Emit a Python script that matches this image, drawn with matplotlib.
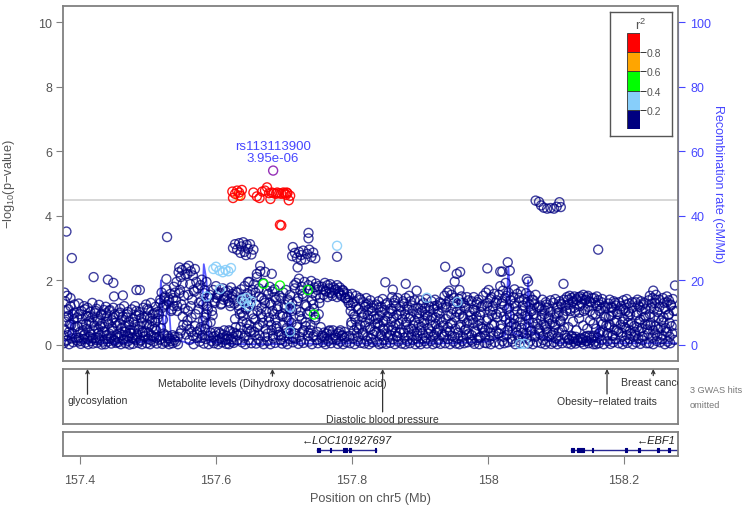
import numpy as np
import matplotlib.pyplot as plt

plt.rcParams['font.family'] = ['Liberation Sans', 'DejaVu Sans']

## Data (positions are kb past 157 Mb on chr5)

MB0 = 157.0

# SNPs with r2 < 0.2, the dense navy band
bg_kb = [
    376, 377, 377, 378, 379, 380, 381, 382, 383, 384, 385, 386, 388, 389, 390, 392, 393, 395,
    396, 397, 398, 400, 401, 402, 403, 405, 406, 407, 408, 409, 410, 411, 412, 413, 414, 415,
    416, 417, 418, 419, 420, 422, 423, 424, 425, 426, 427, 428, 429, 430, 431, 432, 434, 435,
    436, 437, 438, 439, 440, 441, 442, 443, 445, 446, 447, 448, 449, 450, 451, 452, 453, 455,
    456, 457, 458, 459, 460, 461, 462, 464, 465, 466, 467, 468, 469, 470, 471, 472, 473, 474,
    476, 477, 478, 479, 480, 481, 482, 483, 484, 486, 487, 488, 489, 490, 491, 492, 493, 494,
    496, 497, 498, 499, 500, 501, 502, 503, 504, 505, 506, 508, 509, 510, 511, 512, 513, 514,
    516, 517, 518, 519, 520, 521, 522, 523, 524, 525, 526, 527, 529, 530, 531, 533, 534, 535,
    536, 537, 538, 539, 540, 541, 542, 543, 544, 545, 546, 547, 548, 549, 550, 551, 553, 555,
    556, 557, 558, 559, 560, 561, 562, 563, 564, 565, 566, 567, 568, 569, 570, 571, 573, 575,
    576, 577, 578, 579, 580, 581, 582, 583, 584, 585, 586, 587, 588, 589, 590, 592, 593, 595,
    596, 597, 598, 599, 600, 601, 602, 603, 604, 605, 606, 608, 609, 610, 611, 612, 614, 615,
    616, 617, 618, 619, 620, 621, 622, 623, 624, 625, 626, 627, 628, 629, 630, 631, 633, 635,
    636, 637, 638, 639, 640, 641, 642, 643, 644, 645, 646, 648, 649, 650, 651, 652, 654, 655,
    656, 657, 658, 659, 660, 661, 662, 663, 664, 665, 666, 667, 668, 669, 670, 672, 673, 675,
    676, 677, 678, 679, 680, 681, 682, 683, 684, 685, 686, 687, 688, 689, 690, 692, 693, 695,
    696, 697, 698, 699, 700, 701, 702, 703, 704, 705, 706, 707, 708, 709, 710, 712, 713, 715,
    716, 717, 718, 719, 720, 721, 722, 723, 724, 725, 726, 727, 728, 729, 730, 732, 733, 735,
    736, 737, 738, 739, 740, 741, 742, 743, 744, 745, 746, 747, 748, 749, 750, 751, 753, 755,
    756, 757, 758, 759, 760, 761, 762, 763, 764, 765, 766, 767, 768, 769, 770, 772, 773, 775,
    776, 777, 778, 779, 780, 781, 782, 783, 784, 785, 786, 787, 788, 789, 790, 792, 793, 795,
    796, 797, 798, 799, 800, 801, 802, 803, 804, 805, 806, 807, 808, 809, 810, 812, 813, 815,
    816, 817, 818, 819, 820, 821, 822, 823, 824, 825, 826, 827, 828, 829, 830, 832, 833, 835,
    836, 837, 838, 839, 840, 841, 842, 843, 844, 845, 846, 847, 848, 849, 850, 852, 853, 855,
    856, 857, 858, 859, 860, 861, 862, 863, 864, 865, 866, 867, 868, 869, 870, 872, 873, 875,
    876, 877, 878, 879, 880, 881, 882, 883, 884, 885, 886, 887, 888, 889, 890, 892, 893, 895,
    896, 897, 898, 899, 900, 901, 902, 903, 904, 905, 906, 907, 908, 909, 910, 912, 913, 915,
    916, 917, 918, 919, 920, 921, 922, 923, 924, 925, 926, 927, 928, 929, 930, 932, 933, 935,
    936, 937, 938, 939, 940, 941, 942, 943, 944, 945, 946, 947, 948, 949, 950, 952, 953, 955,
    956, 957, 958, 959, 960, 961, 962, 963, 964, 965, 966, 967, 968, 969, 970, 972, 973, 975,
    976, 977, 978, 979, 980, 981, 982, 983, 984, 985, 986, 987, 988, 989, 990, 992, 993, 995,
    996, 997, 998, 999, 1000, 1001, 1002, 1003, 1004, 1005, 1006, 1007, 1008, 1009, 1010, 1012, 1013, 1015,
    1016, 1017, 1018, 1019, 1020, 1021, 1022, 1023, 1024, 1025, 1026, 1027, 1028, 1029, 1030, 1032, 1033, 1035,
    1036, 1037, 1038, 1039, 1040, 1041, 1042, 1043, 1044, 1045, 1046, 1047, 1048, 1049, 1050, 1052, 1053, 1055,
    1056, 1057, 1058, 1059, 1060, 1061, 1062, 1063, 1064, 1065, 1066, 1067, 1068, 1069, 1070, 1072, 1073, 1075,
    1076, 1077, 1078, 1079, 1080, 1081, 1082, 1083, 1084, 1085, 1086, 1087, 1088, 1089, 1090, 1092, 1093, 1095,
    1096, 1097, 1098, 1099, 1100, 1101, 1102, 1103, 1104, 1105, 1106, 1107, 1108, 1109, 1110, 1112, 1113, 1115,
    1116, 1117, 1118, 1119, 1120, 1121, 1122, 1123, 1124, 1125, 1126, 1127, 1128, 1129, 1130, 1132, 1133, 1135,
    1136, 1137, 1138, 1139, 1140, 1141, 1142, 1143, 1144, 1145, 1146, 1147, 1148, 1149, 1150, 1152, 1153, 1155,
    1156, 1157, 1158, 1159, 1160, 1161, 1162, 1163, 1164, 1165, 1166, 1167, 1168, 1169, 1170, 1172, 1173, 1175,
    1176, 1177, 1178, 1179, 1180, 1181, 1182, 1183, 1184, 1185, 1186, 1187, 1188, 1189, 1190, 1192, 1193, 1195,
    1196, 1197, 1198, 1199, 1200, 1201, 1202, 1203, 1204, 1205, 1206, 1207, 1208, 1209, 1210, 1212, 1213, 1215,
    1216, 1217, 1218, 1219, 1220, 1221, 1222, 1223, 1224, 1225, 1226, 1227, 1228, 1229, 1230, 1232, 1233, 1235,
    1236, 1237, 1238, 1239, 1240, 1241, 1242, 1243, 1244, 1245, 1246, 1247, 1248, 1249, 1250, 1252, 1253, 1255,
    1256, 1257, 1258, 1259, 1260, 1261, 1262, 1263, 1264, 1265, 1266, 1267, 1268, 1269, 1270, 1272, 1274, 1277,
]
bg_logp = [
    0.05, 1.62, 0.48, 1.35, 0.12, 0.86, 1.52, 0.30, 1.10, 0.02, 0.64, 1.45, 0.20, 0.95, 0.08, 1.25, 0.55, 0.15,
    0.85, 0.10, 1.28, 0.40, 0.03, 1.05, 0.62, 0.18, 1.20, 0.33, 0.07, 0.90, 0.50, 1.15, 0.02, 0.72, 0.25, 1.02,
    0.12, 0.68, 1.30, 0.04, 0.45, 0.98, 0.22, 1.12, 0.06, 0.80, 0.36, 1.24, 0.14, 0.58, 0.92, 0.01, 0.42, 1.08,
    0.55, 0.02, 1.18, 0.30, 0.88, 0.10, 0.66, 1.05, 0.20, 0.04, 0.76, 0.44, 1.15, 0.15, 0.95, 0.26, 0.06, 0.60,
    0.08, 0.94, 0.35, 1.12, 0.02, 0.52, 0.78, 0.18, 1.20, 0.40, 0.05, 0.85, 0.28, 1.02, 0.12, 0.62, 0.01, 0.46,
    1.10, 0.22, 0.03, 0.70, 0.48, 1.20, 0.15, 0.90, 0.32, 0.06, 1.02, 0.58, 0.12, 0.82, 0.02, 0.38, 1.15, 0.25,
    0.42, 1.25, 0.05, 0.88, 0.18, 1.08, 0.60, 0.02, 1.30, 0.30, 0.74, 0.10, 0.98, 0.50, 1.18, 0.22, 0.04, 0.82,
    0.95, 0.15, 1.40, 0.52, 1.62, 0.03, 0.78, 1.22, 0.30, 1.50, 0.08, 1.72, 0.20, 1.35, 0.02, 1.58, 0.12, 1.10,
    0.05, 1.45, 1.80, 0.25, 1.62, 0.10, 1.95, 1.20, 0.02, 2.25, 2.40, 1.70, 2.10, 0.45, 2.32, 0.88, 1.52, 2.18,
    2.38, 0.60, 2.20, 1.05, 2.45, 0.15, 1.88, 2.28, 0.40, 1.40, 2.15, 0.02, 1.65, 2.35, 0.95, 0.22, 1.75, 1.30,
    0.10, 1.85, 0.55, 2.02, 0.30, 1.25, 0.04, 1.60, 0.85, 0.18, 1.95, 0.65, 1.10, 0.02, 1.45, 0.38, 0.12, 0.92,
    1.70, 0.05, 1.35, 0.28, 1.82, 0.12, 1.55, 0.02, 0.40, 1.62, 0.20, 1.28, 0.08, 1.75, 0.32, 1.48, 0.15, 0.03,
    1.52, 0.18, 1.68, 0.02, 1.30, 0.42, 1.78, 0.10, 1.58, 0.25, 0.06, 1.40, 0.80, 1.65, 0.35, 0.14, 1.22, 0.95,
    0.55, 1.72, 0.08, 1.35, 0.90, 0.22, 1.82, 0.02, 1.10, 0.68, 1.60, 0.15, 1.95, 0.40, 1.25, 0.05, 1.70, 0.82,
    1.88, 0.30, 1.62, 0.04, 2.10, 1.05, 0.18, 1.75, 0.62, 2.28, 0.10, 1.45, 0.85, 1.92, 0.02, 1.30, 0.48, 1.68,
    0.12, 1.58, 0.72, 1.80, 0.02, 1.25, 0.45, 1.65, 0.20, 0.95, 1.72, 0.06, 1.40, 0.58, 1.10, 0.30, 1.52, 0.15,
    1.45, 0.04, 0.88, 1.62, 0.25, 1.15, 0.10, 1.70, 0.52, 0.02, 1.35, 0.75, 0.18, 1.55, 0.42, 1.05, 0.08, 1.85,
    1.75, 0.20, 1.92, 0.55, 1.35, 0.03, 2.05, 0.90, 1.68, 0.12, 1.80, 0.40, 1.50, 0.06, 1.95, 0.70, 1.20, 0.28,
    1.85, 0.10, 1.72, 0.45, 1.98, 0.02, 1.60, 1.25, 0.30, 1.78, 0.85, 1.90, 0.15, 1.70, 0.05, 1.82, 1.45, 0.22,
    1.80, 0.08, 1.72, 0.25, 1.92, 0.02, 1.65, 0.35, 1.85, 0.12, 1.75, 0.45, 1.88, 0.05, 1.60, 0.18, 1.78, 0.30,
    1.72, 0.15, 1.85, 0.03, 1.65, 0.40, 1.78, 0.10, 1.55, 0.28, 1.70, 0.02, 1.62, 0.22, 1.45, 0.08, 1.58, 1.30,
    1.48, 0.05, 1.22, 0.62, 1.58, 0.20, 0.95, 1.35, 0.02, 0.78, 1.52, 0.35, 0.12, 1.10, 0.48, 1.40, 0.06, 0.85,
    0.30, 1.32, 0.04, 1.18, 0.70, 1.45, 0.12, 0.92, 1.28, 0.02, 0.55, 1.38, 0.20, 1.05, 0.08, 1.22, 0.42, 0.80,
    1.25, 0.10, 0.68, 1.35, 0.02, 0.90, 0.32, 1.18, 0.05, 1.42, 0.50, 0.15, 1.08, 0.75, 0.03, 1.30, 0.24, 0.98,
    0.06, 1.12, 0.45, 1.48, 0.18, 0.85, 1.30, 0.02, 0.62, 1.20, 0.28, 1.45, 0.10, 0.95, 0.38, 1.05, 0.04, 1.35,
    1.28, 0.22, 0.02, 1.45, 0.70, 0.12, 1.10, 0.48, 1.52, 0.05, 0.88, 0.30, 1.22, 0.15, 0.60, 1.38, 0.02, 0.95,
    0.40, 1.15, 0.08, 0.82, 1.38, 0.02, 0.55, 1.05, 0.20, 1.30, 0.68, 0.12, 0.92, 1.42, 0.04, 0.35, 1.20, 0.75,
    0.12, 1.35, 0.58, 0.02, 1.10, 0.30, 1.40, 0.85, 0.06, 1.22, 0.45, 0.15, 0.98, 1.32, 0.03, 0.70, 1.15, 0.25,
    1.52, 0.05, 1.25, 0.40, 1.62, 0.18, 0.90, 1.40, 0.02, 0.65, 1.55, 0.28, 1.10, 0.10, 1.45, 0.50, 0.04, 1.30,
    0.20, 1.42, 0.02, 1.10, 0.62, 1.50, 0.12, 0.88, 1.30, 0.05, 0.45, 1.20, 0.30, 1.48, 0.08, 0.75, 1.02, 0.15,
    1.35, 0.10, 0.78, 1.48, 0.03, 1.05, 0.40, 1.25, 0.15, 0.60, 1.40, 0.02, 0.92, 0.25, 1.18, 0.50, 1.52, 0.06,
    0.45, 1.62, 0.05, 1.30, 0.82, 1.70, 0.15, 1.05, 0.02, 1.48, 0.62, 1.20, 0.28, 1.58, 0.08, 0.95, 1.38, 0.35,
    1.55, 0.02, 1.82, 0.50, 1.28, 0.12, 1.68, 0.88, 0.05, 1.45, 1.92, 0.30, 1.10, 0.08, 1.62, 0.70, 1.38, 0.18,
    0.10, 1.48, 0.65, 1.72, 0.02, 1.20, 0.38, 1.58, 0.85, 0.15, 1.35, 0.05, 1.65, 0.52, 1.05, 0.22, 1.42, 0.90,
    1.60, 0.20, 1.32, 0.04, 0.78, 1.52, 0.12, 1.10, 0.45, 1.40, 0.02, 0.95, 1.25, 0.30, 1.55, 0.08, 0.65, 1.18,
    0.35, 1.22, 0.05, 0.90, 1.40, 0.15, 0.62, 1.08, 0.02, 1.32, 0.48, 0.10, 1.15, 0.80, 0.25, 1.38, 0.03, 0.70,
    1.30, 0.08, 0.55, 1.42, 0.20, 0.98, 0.02, 1.18, 0.40, 1.35, 0.12, 0.75, 1.25, 0.05, 0.88, 1.40, 0.30, 1.05,
    1.48, 0.05, 1.40, 0.18, 1.52, 1.12, 0.02, 1.45, 0.25, 1.35, 0.10, 1.50, 1.02, 0.04, 1.42, 0.15, 1.48, 1.20,
    1.50, 0.08, 1.42, 0.20, 1.55, 0.02, 1.38, 1.10, 0.12, 1.48, 0.28, 1.52, 0.05, 1.35, 1.05, 0.15, 1.45, 0.02,
    1.45, 0.10, 1.30, 0.02, 1.50, 0.22, 1.38, 0.05, 1.25, 0.40, 1.12, 0.15, 1.42, 0.65, 0.02, 1.20, 0.85, 0.30,
    0.12, 1.28, 0.55, 1.40, 0.03, 0.90, 1.15, 0.30, 0.08, 1.35, 0.70, 0.18, 1.22, 0.45, 1.02, 0.05, 1.32, 0.62,
    1.20, 0.25, 0.02, 1.38, 0.80, 0.12, 1.05, 0.50, 1.42, 0.06, 0.68, 1.28, 0.18, 0.95, 0.35, 1.15, 0.02, 0.58,
    0.40, 1.32, 0.08, 1.00, 1.40, 0.20, 0.72, 1.18, 0.03, 1.35, 0.52, 0.14, 1.25, 0.85, 0.28, 1.10, 0.05, 0.62,
    1.38, 0.05, 1.52, 0.60, 1.15, 0.22, 1.45, 0.02, 0.88, 1.30, 0.35, 1.55, 0.12, 1.02, 0.48, 1.40, 0.08, 0.75,
    0.18, 1.45, 0.70, 1.30, 0.02, 1.10, 0.40, 1.50, 0.10, 0.92, 1.38, 0.25, 0.05, 1.22, 0.58, 1.42, 0.15, 1.05,
]

# more r2 < 0.2 SNPs filling the middle of the band
mid_kb = [
    376, 378, 379, 381, 383, 384, 386, 387, 389, 391, 392, 394,
    396, 398, 399, 401, 403, 404, 406, 407, 409, 411, 412, 414,
    416, 418, 419, 421, 423, 424, 426, 427, 429, 431, 432, 434,
    436, 438, 439, 441, 443, 444, 446, 447, 449, 451, 452, 454,
    456, 458, 459, 461, 463, 464, 466, 467, 469, 471, 472, 474,
    476, 478, 479, 481, 483, 484, 486, 487, 489, 491, 492, 494,
    496, 498, 499, 501, 503, 504, 506, 507, 509, 511, 512, 514,
    516, 518, 519, 521, 523, 524, 526, 527, 529, 531, 532, 534,
    536, 538, 539, 541, 543, 544, 546, 547, 549, 551, 552, 554,
    556, 558, 559, 561, 563, 564, 566, 567, 569, 571, 572, 574,
    576, 578, 579, 581, 583, 584, 586, 587, 589, 591, 592, 594,
    596, 598, 599, 601, 603, 604, 606, 607, 609, 611, 612, 614,
    616, 618, 619, 621, 623, 624, 626, 627, 629, 631, 632, 634,
    636, 638, 639, 641, 643, 644, 646, 647, 649, 651, 652, 654,
    656, 658, 659, 661, 663, 664, 666, 667, 669, 671, 672, 674,
    676, 678, 679, 681, 683, 684, 686, 687, 689, 691, 692, 694,
    696, 698, 699, 701, 703, 704, 706, 707, 709, 711, 712, 714,
    716, 718, 719, 721, 723, 724, 726, 727, 729, 731, 732, 734,
    736, 738, 739, 741, 743, 744, 746, 747, 749, 751, 752, 754,
    756, 758, 759, 761, 763, 764, 766, 767, 769, 771, 772, 774,
    776, 778, 779, 781, 783, 784, 786, 787, 789, 791, 792, 794,
    796, 798, 799, 801, 803, 804, 806, 807, 809, 811, 812, 814,
    816, 818, 819, 821, 823, 824, 826, 827, 829, 831, 832, 834,
    836, 838, 839, 841, 843, 844, 846, 847, 849, 851, 852, 854,
    856, 858, 859, 861, 863, 864, 866, 867, 869, 871, 872, 874,
    876, 878, 879, 881, 883, 884, 886, 887, 889, 891, 892, 894,
    896, 898, 899, 901, 903, 904, 906, 907, 909, 911, 912, 914,
    916, 918, 919, 921, 923, 924, 926, 927, 929, 931, 932, 934,
    936, 938, 939, 941, 943, 944, 946, 947, 949, 951, 952, 954,
    956, 958, 959, 961, 963, 964, 966, 967, 969, 971, 972, 974,
    976, 978, 979, 981, 983, 984, 986, 987, 989, 991, 992, 994,
    996, 998, 999, 1001, 1003, 1004, 1006, 1007, 1009, 1011, 1012, 1014,
    1016, 1018, 1019, 1021, 1023, 1024, 1026, 1027, 1029, 1031, 1032, 1034,
    1036, 1038, 1039, 1041, 1043, 1044, 1046, 1047, 1049, 1051, 1052, 1054,
    1056, 1058, 1059, 1061, 1063, 1064, 1066, 1067, 1069, 1071, 1072, 1074,
    1076, 1078, 1079, 1081, 1083, 1084, 1086, 1087, 1089, 1091, 1092, 1094,
    1096, 1098, 1099, 1101, 1103, 1104, 1106, 1107, 1109, 1111, 1112, 1114,
    1116, 1118, 1119, 1121, 1123, 1124, 1126, 1127, 1129, 1131, 1132, 1134, 1118, 1125, 1130, 1134,
    1136, 1138, 1139, 1141, 1143, 1144, 1146, 1147, 1149, 1151, 1152, 1154, 1140, 1146, 1150, 1155,
    1156, 1158, 1159, 1161, 1163, 1164, 1166, 1167, 1169, 1171, 1172, 1174,
    1176, 1178, 1179, 1181, 1183, 1184, 1186, 1187, 1189, 1191, 1192, 1194,
    1196, 1198, 1199, 1201, 1203, 1204, 1206, 1207, 1209, 1211, 1212, 1214,
    1216, 1218, 1219, 1221, 1223, 1224, 1226, 1227, 1229, 1231, 1232, 1234,
    1236, 1238, 1239, 1241, 1243, 1244, 1246, 1247, 1249, 1251, 1252, 1254,
    1256, 1258, 1259, 1261, 1263, 1264, 1266, 1267, 1269, 1271, 1273, 1276,
]
mid_logp = [
    0.28, 0.72, 1.05, 0.15, 0.90, 0.40, 1.20, 0.62, 0.35, 0.80, 1.00, 0.22,
    0.58, 0.22, 0.95, 0.12, 0.80, 0.45, 0.30, 1.10, 0.65, 0.18, 0.88, 0.38,
    0.32, 0.85, 0.20, 0.60, 1.05, 0.15, 0.75, 0.48, 0.28, 0.95, 0.65, 0.10,
    0.40, 0.98, 0.18, 0.72, 0.35, 1.08, 0.25, 0.55, 0.85, 0.12, 0.68, 0.30,
    0.22, 0.66, 1.00, 0.30, 0.88, 0.14, 0.58, 0.42, 0.95, 0.25, 0.72, 0.36,
    0.35, 0.80, 0.18, 0.62, 1.05, 0.28, 0.48, 0.92, 0.15, 0.70, 0.40, 0.85,
    0.28, 0.65, 1.12, 0.38, 0.82, 0.15, 0.55, 0.95, 0.25, 0.70, 0.45, 1.02,
    0.25, 1.30, 0.18, 1.15, 0.35, 1.45, 0.12, 1.25, 0.28, 1.40, 0.20, 1.05,
    0.30, 1.20, 0.15, 1.38, 1.05, 0.25, 1.60, 0.35, 1.25, 1.90, 0.62, 1.12,
    0.32, 0.75, 1.55, 0.48, 1.20, 0.85, 0.28, 1.70, 0.58, 1.95, 0.40, 1.10,
    0.45, 1.35, 0.22, 0.75, 1.70, 0.50, 0.95, 1.20, 0.28, 1.55, 0.70, 1.05,
    0.25, 1.30, 0.40, 1.45, 0.15, 1.58, 0.35, 1.25, 0.22, 1.40, 0.45, 1.65,
    0.28, 1.35, 0.45, 1.20, 0.18, 1.48, 0.38, 1.28, 0.55, 1.62, 0.30, 1.10,
    0.35, 1.00, 0.72, 1.48, 0.28, 1.15, 0.50, 1.30, 0.62, 1.55, 0.45, 0.95,
    0.40, 0.78, 1.25, 0.55, 1.50, 0.30, 0.95, 1.15, 0.68, 1.38, 0.25, 1.02,
    0.35, 0.85, 1.30, 0.62, 1.05, 0.28, 1.48, 0.78, 0.50, 1.20, 0.40, 0.92,
    0.30, 0.95, 0.62, 1.25, 0.45, 0.85, 1.40, 0.35, 1.10, 0.68, 1.28, 0.22,
    0.35, 1.10, 0.62, 1.45, 0.25, 1.02, 0.80, 1.58, 0.45, 1.25, 0.58, 0.95,
    0.38, 1.05, 0.62, 1.38, 0.25, 1.12, 0.78, 1.52, 0.40, 0.95, 1.30, 0.55,
    0.28, 1.55, 0.38, 1.68, 0.20, 1.48, 0.42, 1.62, 0.32, 1.52, 0.45, 1.70,
    0.22, 1.48, 0.35, 1.60, 0.45, 1.52, 0.30, 1.68, 0.40, 1.45, 0.25, 1.38,
    0.28, 1.05, 0.70, 1.30, 0.45, 0.88, 1.18, 0.55, 0.25, 1.45, 0.62, 1.00,
    0.38, 0.95, 0.60, 1.25, 0.25, 1.08, 0.78, 0.48, 1.15, 0.32, 0.88, 0.65,
    0.40, 0.82, 1.15, 0.60, 0.28, 1.02, 0.72, 0.45, 1.25, 0.35, 0.88, 0.55,
    0.30, 0.72, 1.05, 0.55, 1.38, 0.40, 0.92, 0.25, 0.65, 1.18, 0.48, 0.80,
    0.38, 0.95, 0.62, 1.18, 0.28, 0.82, 1.35, 0.50, 1.05, 0.42, 0.75, 0.20,
    0.28, 0.62, 0.98, 0.45, 1.25, 0.35, 0.75, 1.12, 0.22, 0.88, 0.52, 1.05,
    0.42, 0.88, 0.25, 1.20, 0.65, 0.38, 1.02, 0.50, 0.80, 1.28, 0.32, 0.60,
    0.30, 0.80, 1.18, 0.55, 1.35, 0.42, 0.95, 0.68, 1.28, 0.25, 0.85, 1.02,
    0.38, 0.95, 0.55, 1.30, 0.25, 0.82, 1.15, 0.48, 0.68, 1.38, 0.35, 0.90,
    0.30, 0.68, 1.10, 0.45, 0.88, 1.32, 0.22, 0.75, 1.02, 0.55, 1.22, 0.38,
    0.28, 0.75, 1.20, 0.52, 1.42, 0.38, 0.92, 1.10, 0.62, 1.30, 0.42, 0.85,
    0.35, 1.00, 0.62, 1.35, 0.25, 1.22, 0.78, 1.52, 0.45, 1.15, 0.92, 0.58,
    0.42, 0.80, 1.28, 0.55, 1.05, 0.30, 1.45, 0.72, 0.95, 1.22, 0.38, 0.62,
    0.35, 0.92, 0.55, 1.25, 0.42, 1.05, 0.68, 1.38, 0.25, 0.82, 1.15, 0.50,
    0.45, 0.78, 1.10, 0.28, 0.95, 0.58, 1.25, 0.40, 0.85, 0.65, 1.02, 0.32,
    0.38, 0.85, 0.62, 1.15, 0.25, 1.00, 0.72, 1.28, 0.45, 0.92, 0.55, 1.22,
    0.22, 1.25, 0.15, 1.05, 0.28, 1.32, 0.18, 1.15, 0.25, 1.38, 0.12, 1.00, 0.55, 0.72, 0.45, 0.82,
    0.20, 1.28, 0.15, 1.05, 0.25, 1.40, 0.12, 1.18, 0.28, 1.32, 0.22, 0.95, 0.60, 0.50, 0.75, 0.65,
    0.28, 0.95, 0.50, 1.20, 0.35, 1.05, 0.72, 1.32, 0.42, 0.88, 1.15, 0.60,
    0.35, 0.88, 0.62, 1.18, 0.28, 1.02, 0.48, 1.30, 0.75, 0.95, 0.40, 1.10,
    0.38, 0.72, 1.10, 0.55, 1.25, 0.30, 0.88, 1.02, 0.45, 0.65, 1.32, 0.25,
    0.30, 0.92, 0.55, 1.22, 0.42, 0.78, 1.05, 0.25, 1.30, 0.65, 0.88, 0.48,
    0.35, 0.95, 0.68, 1.28, 0.45, 1.10, 0.58, 1.40, 0.28, 0.82, 1.18, 0.52,
    0.30, 0.85, 1.15, 0.52, 1.32, 0.40, 0.95, 0.68, 1.25, 0.35, 1.05, 0.62,
]

# r2 < 0.2 SNPs standing above the band
top_kb = [380, 388, 420, 441, 449, 463, 450, 483, 488, 527, 528,
          625, 628, 631, 634, 637, 640, 642, 645, 647, 650, 652, 655, 636, 644,
          647, 660, 665, 672, 682, 720,
          713, 712, 716, 719, 722, 725, 728, 731, 734, 737, 740, 743, 746, 725,
          736, 736, 778,
          849, 860, 879, 895, 937, 943, 951, 954, 958, 959,
          999, 1018, 1021, 1029, 1032, 1057, 1059, 1111, 1162, 1243, 1275,
          1070, 1075, 1078, 1082, 1087, 1092, 1097, 1101, 1105, 1107]
top_logp = [3.51, 2.69, 2.10, 2.02, 1.92, 1.53, 1.50, 1.70, 1.70, 2.04, 3.34,
            3.00, 3.12, 2.95, 3.15, 3.05, 3.18, 2.88, 3.10, 2.98, 3.12, 2.80, 2.95, 2.85, 2.78,
            1.95, 2.20, 2.45, 2.26, 2.20, 2.40,
            3.03, 2.75, 2.85, 2.70, 2.88, 2.78, 2.92, 2.65, 2.82, 2.95, 2.72, 2.86, 2.68, 2.62,
            3.47, 3.30, 2.73,
            1.94, 1.71, 1.89, 1.68, 2.42, 1.68, 1.96, 2.20, 1.70, 2.26,
            2.37, 2.27, 2.27, 2.56, 2.30, 2.04, 1.96, 1.89, 2.95, 1.68, 1.84,
            4.47, 4.43, 4.32, 4.25, 4.22, 4.24, 4.22, 4.28, 4.42, 4.27]

# SNPs in LD with the lead SNP
ld_kb = [624, 625, 628, 631, 634, 636, 638, 655, 660, 664, 668, 672, 675, 678, 680,
         682, 685, 688, 690, 693, 696, 699, 701, 703, 704, 705, 707, 709, 694, 696,
         633,
         670, 694, 735, 744,
         596, 600, 605, 610, 614, 618, 622, 606, 586, 638, 642, 645, 648, 652,
         709, 709, 778, 910, 955, 1047, 1054]
ld_logp = [4.75, 4.55, 4.68, 4.78, 4.72, 4.62, 4.80, 4.72, 4.60, 4.55, 4.75, 4.78, 4.88, 4.70, 4.52,
           4.72, 4.70, 4.68, 4.72, 4.70, 4.68, 4.72, 4.70, 4.65, 4.72, 4.70, 4.48, 4.62, 3.72, 3.70,
           4.62,
           1.89, 1.84, 1.70, 0.94,
           2.35, 2.42, 2.30, 2.25, 2.32, 2.28, 2.38, 1.73, 1.50, 1.40, 1.30, 1.45, 1.20, 1.35,
           1.17, 0.41, 3.07, 1.46, 1.33, 0.03, 0.03]
ld_r2 = [0.92, 0.88, 0.95, 0.90, 0.93, 0.85, 0.91, 0.96, 0.89, 0.87, 0.94, 0.97, 0.90, 0.92, 0.86,
         0.95, 0.98, 0.93, 0.96, 0.94, 0.97, 0.92, 0.95, 0.91, 0.99, 0.96, 0.84, 0.90, 0.83, 0.82,
         0.72,
         0.45, 0.48, 0.42, 0.44,
         0.30, 0.28, 0.32, 0.26, 0.35, 0.29, 0.31, 0.24, 0.22, 0.27, 0.33, 0.25, 0.21, 0.30,
         0.23, 0.21, 0.25, 0.22, 0.24, 0.21, 0.22]

lead_kb = 684
lead_logp = 5.40
lead_name = 'rs113113900'
lead_p = '3.95e-06'
sig_logp = 4.5

# recombination rate (cM/Mb)
rec_kb = [375, 385, 388, 392, 450, 500, 515, 519, 523, 530, 534, 560, 578, 582, 586,
          590, 620, 660, 700, 707, 709, 712, 750, 800, 850, 900, 950, 1000, 1025, 1030,
          1035, 1055, 1059, 1063, 1100, 1160, 1162, 1165, 1200, 1280]
rec_rate = [1, 2, 11, 1, 0.5, 1, 2, 20, 3, 14, 2, 0.5, 1, 25, 20,
            1, 0.3, 0.2, 0.3, 2, 12, 0.5, 0.3, 0.5, 0.3, 0.5, 0.5, 1, 3, 24,
            4, 2, 20, 4, 0.5, 1, 7, 0.5, 0.5, 0.5]

# GWAS catalog hits
gwas_kb = [411, 683, 845, 1175, 1243]
gwas_trait = ['glycosylation', 'Metabolite levels (Dihydroxy docosatrienoic acid)',
              'Diastolic blood pressure', 'Obesity\u2212related traits', 'Breast cancer']
gwas_omitted = 3

# genes (minus strand)
gene_name = ['LOC101927697', 'EBF1']
gene_start_kb = [748, 1122]
gene_end_kb = [836, 1400]
gene_exons_kb = [[(748, 753), (767, 769), (787, 789), (790, 792), (796, 798), (834, 836)],
                 [(1122, 1126), (1131, 1141), (1153, 1155), (1202, 1204), (1221, 1223),
                  (1249, 1251), (1265, 1267)]]

r2_edges = [0.0, 0.2, 0.4, 0.6, 0.8, 1.0]
r2_colors = ['#000080', '#87CEFA', '#00FF00', '#FFA500', '#FF0000']
lead_color = '#9632B8'

## Plot

GREY = '#808080'
TXT = '#555555'
BLUE = '#4646FF'
XMIN, XMAX = 157.375, 158.2794
FS = 9


def mb(kb):
    return MB0 + np.asarray(kb, dtype=float) / 1000.0


fig = plt.figure(figsize=(7.44, 5.10), dpi=100)

ax = fig.add_axes([0.0847, 0.2902, 0.8266, 0.6961])
ax2 = ax.twinx()
ax.set_zorder(ax2.get_zorder() + 1)
ax.patch.set_visible(False)

# recombination line underneath the points
ax2.plot(mb(rec_kb), rec_rate, color='#3C3CFF', lw=1.3, alpha=0.85)
ax2.set_ylim(-5, 105)
ax2.set_yticks([0, 20, 40, 60, 80, 100])
ax2.tick_params(axis='y', colors=BLUE, labelsize=FS, length=5, width=0.8, pad=4)
ax2.set_ylabel('Recombination rate (cM/Mb)', color=BLUE, fontsize=FS, rotation=270)
ax2.yaxis.set_label_coords(1.075, 0.5)
for s in ['left', 'top', 'bottom']:
    ax2.spines[s].set_visible(False)
ax2.spines['right'].set_color(BLUE)
ax2.spines['right'].set_bounds(0, 100)

ax.axhline(sig_logp, color='#D3D3D3', lw=1.3, zorder=1)

mk = dict(s=42, facecolors='none', linewidths=1.0)
ax.scatter(mb(bg_kb), bg_logp, edgecolors=r2_colors[0], alpha=0.75, zorder=2, **mk)
ax.scatter(mb(mid_kb), mid_logp, edgecolors=r2_colors[0], alpha=0.75, zorder=2, **mk)
ax.scatter(mb(top_kb), top_logp, edgecolors=r2_colors[0], alpha=0.75, zorder=2, **mk)

ld_bin = np.digitize(ld_r2, r2_edges[1:-1])
ld_x = mb(ld_kb)
ld_y = np.asarray(ld_logp)
for b in range(len(r2_colors)):
    sel = ld_bin == b
    if sel.any():
        ax.scatter(ld_x[sel], ld_y[sel], edgecolors=r2_colors[b], alpha=0.9, zorder=3 + b, **mk)

ax.scatter([mb(lead_kb)], [lead_logp], edgecolors=lead_color, zorder=9, **mk)
ax.text(mb(lead_kb), lead_logp + 0.2, lead_name + '\n' + lead_p, ha='center', va='bottom',
        color=BLUE, fontsize=9.5, linespacing=1.05)

ax.set_xlim(XMIN, XMAX)
ax.set_ylim(-0.5, 10.5)
ax.set_yticks([0, 2, 4, 6, 8, 10])
ax.set_xticks([])
ax.tick_params(axis='y', colors=GREY, labelcolor=TXT, labelsize=FS, length=5, width=0.8, pad=3)
ax.set_ylabel('\u2212log$_{\\mathregular{10}}$(p\u2212value)', color=TXT, fontsize=9.2)
ax.yaxis.set_label_coords(-0.075, 0.5)
for s in ax.spines.values():
    s.set_color(GREY)
    s.set_linewidth(1.3)

# r2 legend
lax = fig.add_axes([610 / 744, 1 - 137 / 510, 62 / 744, 124 / 510])
lax.set_xticks([])
lax.set_yticks([])
for s in lax.spines.values():
    s.set_color('#555555')
    s.set_linewidth(1.0)
lax.set_zorder(ax.get_zorder() + 1)

cax = fig.add_axes([627 / 744, 1 - 130 / 510, 13 / 744, 96 / 510])
cax.bar([0] * 5, np.diff(r2_edges), bottom=r2_edges[:-1], width=1, color=r2_colors,
        edgecolor='#333333', linewidth=0.6, align='edge')
cax.set_xlim(0, 1)
cax.set_ylim(0, 1)
cax.set_xticks([])
cax.yaxis.tick_right()
cax.set_yticks(r2_edges[1:-1])
cax.set_yticklabels(['%.1f' % v for v in r2_edges[1:-1]])
cax.tick_params(axis='y', colors='#333333', labelcolor=TXT, labelsize=7.5, length=4, width=0.7, pad=1)
for s in cax.spines.values():
    s.set_visible(False)
cax.set_zorder(lax.get_zorder() + 1)
fig.text(641 / 744, 1 - 25 / 510, 'r$^{\\mathregular{2}}$', ha='center', va='center', color=TXT, fontsize=9.5)

# GWAS catalog panel
gax = fig.add_axes([0.0847, 0.1667, 0.8266, 0.1078])
gax.set_xlim(XMIN, XMAX)
gax.set_ylim(0, 1)
gax.set_xticks([])
gax.set_yticks([])
for s in gax.spines.values():
    s.set_color(GREY)
    s.set_linewidth(1.3)

arrow_from = [0.54, 0.87, 0.22, 0.545, 0.88]
text_y = [0.43, 0.75, 0.09, 0.42, 0.76]
for i, (x, trait) in enumerate(zip(mb(gwas_kb), gwas_trait)):
    gax.annotate('', xy=(x, 1.0), xytext=(x, arrow_from[i]),
                 arrowprops=dict(arrowstyle='->', color='#333333', lw=0.9,
                                 shrinkA=0, shrinkB=0, mutation_scale=6))
    if i == 0:
        gax.text(XMIN + 0.006, text_y[i], trait, ha='left', va='center',
                 fontsize=7.6, color='#333333', clip_on=True)
    else:
        gax.text(x, text_y[i], trait, ha='center', va='center',
                 fontsize=7.6, color='#333333', clip_on=True)
fig.text(690 / 744, 1 - 398 / 510, '%d GWAS hits\nomitted' % gwas_omitted, ha='left', va='center',
         fontsize=6.6, color='#777777', linespacing=1.8)

# gene panel
nax = fig.add_axes([0.0847, 0.1039, 0.8266, 0.0471])
nax.set_xlim(XMIN, XMAX)
nax.set_ylim(0, 1)
nax.set_yticks([])
for s in nax.spines.values():
    s.set_color(GREY)
    s.set_linewidth(1.3)
for name, g0, g1, exons in zip(gene_name, gene_start_kb, gene_end_kb, gene_exons_kb):
    nax.plot(mb([g0, g1]), [0.25, 0.25], color='#000080', lw=1.0, alpha=0.85)
    for e0, e1 in exons:
        nax.fill_between(mb([e0, e1]), 0.16, 0.34, color='#000080', lw=0.8, edgecolor='#000080')
    label = '\u2190' + name
    center = mb((g0 + g1) / 2)
    if mb(g1) > XMAX:
        nax.text(XMAX - 0.004, 0.68, label, ha='right', va='center', style='italic',
                 fontsize=8, color='#222222')
    else:
        nax.text(center, 0.68, label, ha='center', va='center', style='italic',
                 fontsize=8, color='#222222')

nax.set_xticks([157.4, 157.6, 157.8, 158.0, 158.2])
nax.set_xticklabels(['157.4', '157.6', '157.8', '158', '158.2'])
nax.tick_params(axis='x', colors=GREY, labelcolor=TXT, labelsize=FS, length=6, width=0.8, pad=7)
fig.text(371 / 744, 1 - 499 / 510, 'Position on chr5 (Mb)', ha='center', va='center',
         color=TXT, fontsize=9.2)

fig.savefig('out.png', dpi=100)
